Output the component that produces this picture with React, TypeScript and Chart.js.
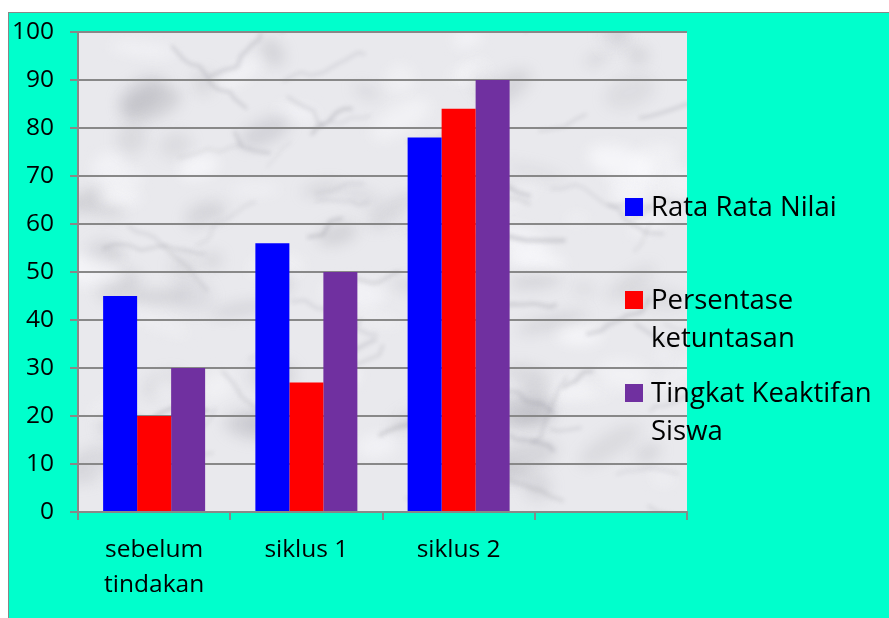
import React, { useEffect, useRef } from 'react';
import { Chart, registerables } from 'chart.js';

Chart.register(...registerables);

// ---- data ----
const categories: (string | string[])[] = [['sebelum', 'tindakan'], 'siklus 1', 'siklus 2', ''];
const rataRataNilai = [45, 56, 78, null];
const persentaseKetuntasan = [20, 27, 84, null];
const tingkatKeaktifan = [30, 50, 90, null];
const seriesNames = ['Rata Rata Nilai', 'Persentase ketuntasan', 'Tingkat Keaktifan Siswa'];
const legendLines = [['Rata Rata Nilai'], ['Persentase', 'ketuntasan'], ['Tingkat Keaktifan', 'Siswa']];
const seriesColors = ['#0000FF', '#FF0000', '#7030A0'];
const yMin = 0;
const yMax = 100;
const yStep = 10;

const FONT = '"Open Sans", "Noto Sans", sans-serif';

function hash(n: number) {
  const s = Math.sin(n * 127.1 + 311.7) * 43758.5453;
  return s - Math.floor(s);
}

const marblePlugin = {
  id: 'marble',
  beforeDraw(chart: any) {
    const { ctx, chartArea: a } = chart;
    const w = a.right - a.left;
    const h = a.bottom - a.top;
    ctx.save();
    ctx.beginPath();
    ctx.rect(a.left, a.top, w, h);
    ctx.clip();
    ctx.fillStyle = '#e9e9ed';
    ctx.fillRect(a.left, a.top, w, h);
    // soft cloudy patches
    ctx.filter = 'blur(7px)';
    for (let i = 0; i < 110; i++) {
      const x = a.left + hash(i + 1) * w;
      const y = a.top + hash(i + 101) * h;
      const rx = 8 + hash(i + 201) * 30;
      const ry = 4 + hash(i + 301) * 12;
      const dark = hash(i + 401) < 0.55;
      ctx.fillStyle = dark
        ? `rgba(165,165,172,${0.15 + hash(i + 501) * 0.2})`
        : `rgba(250,250,253,${0.35 + hash(i + 501) * 0.35})`;
      ctx.beginPath();
      ctx.ellipse(x, y, rx, ry, -0.6 + hash(i + 601) * 1.0, 0, Math.PI * 2);
      ctx.fill();
    }
    // faint veins
    ctx.filter = 'blur(2px)';
    for (let i = 0; i < 60; i++) {
      let x = a.left + hash(i + 1001) * w;
      let y = a.top + hash(i + 1101) * h;
      const ang = -0.9 + hash(i + 1201) * 1.6;
      const segs = 3 + Math.floor(hash(i + 1301) * 7);
      ctx.strokeStyle = `rgba(125,125,135,${0.12 + hash(i + 1401) * 0.2})`;
      ctx.lineWidth = 1.5 + hash(i + 1501) * 2.5;
      ctx.beginPath();
      ctx.moveTo(x, y);
      for (let s = 0; s < segs; s++) {
        const d = 6 + hash(i * 31 + s + 1601) * 12;
        const da = ang + (hash(i * 17 + s + 1701) - 0.5) * 1.2;
        x += Math.cos(da) * d;
        y += Math.sin(da) * d;
        ctx.lineTo(x, y);
      }
      ctx.stroke();
    }
    ctx.restore();
  },
};

const legendPlugin = {
  id: 'sideLegend',
  afterDraw(chart: any) {
    const { ctx, chartArea: a } = chart;
    const boxX = a.right - 62;
    const textX = boxX + 26;
    const starts = [a.top + 175, a.top + 268, a.top + 361];
    const lineGap = 38;
    ctx.save();
    ctx.font = `27.5px ${FONT}`;
    ctx.textBaseline = 'middle';
    ctx.textAlign = 'left';
    chart.data.datasets.forEach((ds: any, i: number) => {
      const cy = starts[i];
      ctx.fillStyle = ds.backgroundColor;
      ctx.fillRect(boxX, cy - 9, 18, 18);
      ctx.fillStyle = '#000';
      legendLines[i].forEach((line, j) => {
        ctx.fillText(line, textX, cy + j * lineGap + 1);
      });
    });
    ctx.restore();
  },
};

export default function App() {
  const ref = useRef<HTMLCanvasElement | null>(null);

  useEffect(() => {
    if (!ref.current) return;
    const seriesData = [rataRataNilai, persentaseKetuntasan, tingkatKeaktifan];
    const chart = new Chart(ref.current, {
      type: 'bar',
      data: {
        labels: categories,
        datasets: seriesData.map((d, i) => ({
          label: seriesNames[i],
          data: d,
          backgroundColor: seriesColors[i],
          borderWidth: 0,
          categoryPercentage: 0.67,
          barPercentage: 1.0,
        })),
      },
      options: {
        responsive: false,
        animation: false,
        devicePixelRatio: 1,
        layout: { padding: { top: 19, right: 202, bottom: 0, left: 0 } },
        plugins: {
          legend: { display: false },
          tooltip: { enabled: false },
          title: { display: false },
        },
        scales: {
          x: {
            afterFit: (s: any) => {
              s.height = 106;
              s.paddingLeft = 0;
              s.paddingRight = 0;
            },
            grid: {
              display: true,
              drawOnChartArea: false,
              drawTicks: true,
              offset: true,
              tickLength: 8,
              color: '#888888',
              lineWidth: 2,
            },
            border: { display: true, color: '#888888', width: 2 },
            ticks: {
              color: '#000',
              font: { family: FONT, size: 24.5, lineHeight: 1.45 },
              padding: 12,
              maxRotation: 0,
              minRotation: 0,
              autoSkip: false,
            },
          },
          y: {
            min: yMin,
            max: yMax,
            afterFit: (s: any) => {
              s.width = 69;
              s.paddingTop = 0;
              s.paddingBottom = 0;
            },
            grid: {
              color: '#888888',
              lineWidth: 2,
              tickLength: 8,
              drawTicks: true,
            },
            border: { display: true, color: '#888888', width: 2 },
            ticks: {
              stepSize: yStep,
              color: '#000',
              font: { family: FONT, size: 24.5 },
              padding: 16,
            },
          },
        },
      },
      plugins: [marblePlugin, legendPlugin],
    });
    return () => chart.destroy();
  }, []);

  return (
    <div
      style={{
        position: 'fixed',
        left: 8,
        top: 12,
        right: 0,
        bottom: 0,
        background: '#00FFCC',
        borderLeft: '1px solid #888888',
        borderTop: '1px solid #888888',
        overflow: 'hidden',
      }}
    >
      <canvas ref={ref} width={880} height={605} style={{ display: 'block' }} />
    </div>
  );
}
